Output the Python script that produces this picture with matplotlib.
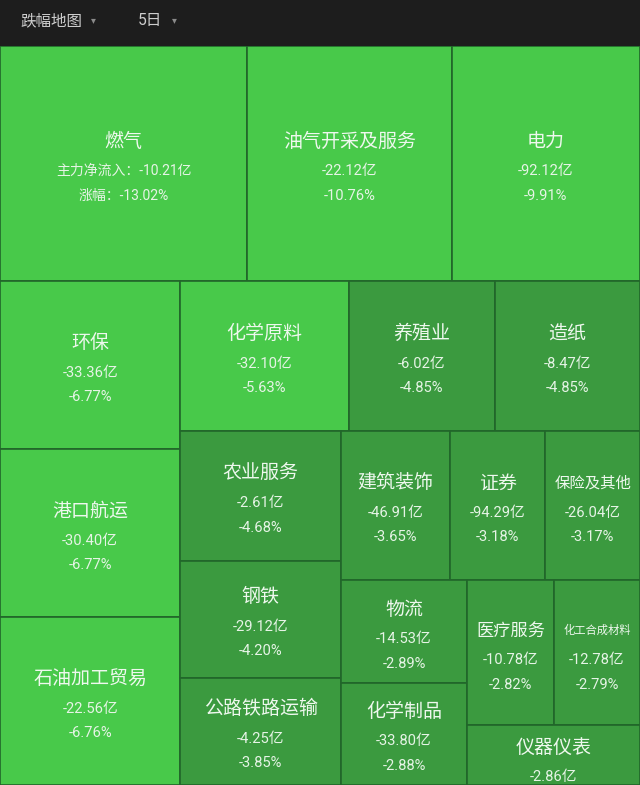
import matplotlib
matplotlib.use("Agg")
import matplotlib.pyplot as plt
from matplotlib.patches import Rectangle

# ---------------- data ----------------
names = ['燃气', '油气开采及服务', '电力', '环保', '港口航运', '石油加工贸易',
         '化学原料', '养殖业', '造纸', '农业服务', '钢铁', '公路铁路运输',
         '建筑装饰', '证券', '保险及其他', '物流', '化学制品', '医疗服务',
         '化工合成材料', '仪器仪表']
flows = [-10.21, -22.12, -92.12, -33.36, -30.40, -22.56, -32.10, -6.02, -8.47,
         -2.61, -29.12, -4.25, -46.91, -94.29, -26.04, -14.53, -33.80, -10.78,
         -12.78, -2.86]
pcts = [-13.02, -10.76, -9.91, -6.77, -6.77, -6.76, -5.63, -4.85, -4.85,
        -4.68, -4.20, -3.85, -3.65, -3.18, -3.17, -2.89, -2.88, -2.82,
        -2.79, -2.30]  # last one hidden in the reference (estimated)
groups = [3, 3, 3, 3, 3, 2, 2, 1]   # squarified strip sizes
header_title = '跌幅地图'
header_period = '5日'

# ---------------- layout ----------------
W, H = 640.0, 739.0
BRIGHT = '#48c94a'
DARK = '#3b9a3f'
EDGE = '#21662a'


def strip_layout(weights, groups, x, y, w, h):
    total = sum(weights)
    scale = w * h / total
    areas = [v * scale for v in weights]
    rects = []
    i = 0
    for g in groups:
        chunk = areas[i:i + g]
        s = sum(chunk)
        if w <= h:  # row across top
            rh = s / w
            cx = x
            for a in chunk:
                cw = a / rh
                rects.append((cx, y, cw, rh))
                cx += cw
            y += rh
            h -= rh
        else:  # column on the left
            cw = s / h
            cy = y
            for a in chunk:
                ch = a / cw
                rects.append((x, cy, cw, ch))
                cy += ch
            x += cw
            w -= cw
        i += g
    return rects


weights = [abs(p) for p in pcts]
rects = strip_layout(weights, groups, 0, 0, W, H)

fig = plt.figure(figsize=(6.4, 7.85), dpi=100)
fig.patch.set_facecolor('#1d1d1d')

# header
hax = fig.add_axes([0, 1 - 46 / 785, 1, 46 / 785])
hax.set_facecolor('#1d1d1d')
hax.set_xlim(0, 640)
hax.set_ylim(46, 0)
hax.axis('off')
hax.text(20, 21, header_title, family=['Noto Sans CJK SC', 'DejaVu Sans'],
         fontsize=11.2, color='#cdcdcd', ha='left', va='center')
hax.text(93, 20, '▾', family=['DejaVu Sans'], fontsize=7, color='#8a8a8a',
         ha='center', va='center')
hax.text(138, 21, header_period, family=['Roboto', 'Noto Sans CJK SC'],
         fontsize=11.2, color='#cdcdcd', ha='left', va='center')
hax.text(174, 20, '▾', family=['DejaVu Sans'], fontsize=7, color='#8a8a8a',
         ha='center', va='center')

ax = fig.add_axes([0, 0, 1, H / 785])
ax.set_xlim(0, W)
ax.set_ylim(H, 0)
ax.axis('off')

PX2PT = 0.72
for k, (name, fl, pc, (x, y, w, h)) in enumerate(zip(names, flows, pcts, rects)):
    color = BRIGHT if pc <= -5 else DARK
    ax.add_patch(Rectangle((x, y), w, h, facecolor=color, edgecolor=EDGE,
                           linewidth=1.2))
    cx = x + w / 2
    cy = y + h / 2
    ty = max(cy - 22.5, y + 22)
    fpx = min(19.0, (w - 18) / len(name))
    ax.text(cx, ty, name, family=['Noto Sans CJK SC', 'DejaVu Sans'],
            fontsize=fpx * PX2PT, color='#eef8ee', ha='center', va='center')
    if k == 0:
        l1 = f'主力净流入：{fl:.2f}亿'
        l2 = f'涨幅：{pc:.2f}%'
        vfs = 10.0
    else:
        l1 = f'{fl:.2f}亿'
        l2 = f'{pc:.2f}%'
        vfs = 10.6
    for off, s in ((30, l1), (54.5, l2)):
        if ty + off + 7 > y + h:
            continue
        ax.text(cx, ty + off, s, family=['Roboto', 'Noto Sans CJK SC'],
                fontsize=vfs, color='#e6f4e6', ha='center', va='center')

fig.savefig('out.png', dpi=100, facecolor=fig.get_facecolor())
